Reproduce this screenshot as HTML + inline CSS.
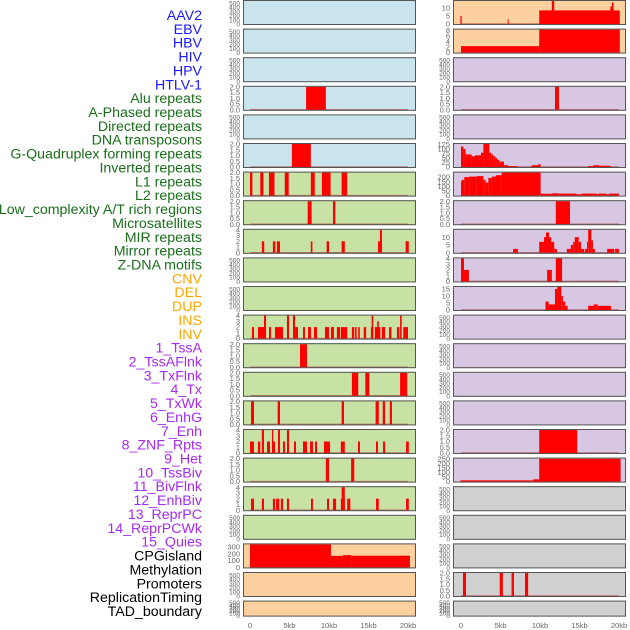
<!DOCTYPE html>
<html><head><meta charset="utf-8"><style>
html,body{margin:0;padding:0;background:#fff;width:630px;height:630px;overflow:hidden}
svg{display:block}
</style></head><body>
<svg id="chart" width="630" height="630" xmlns="http://www.w3.org/2000/svg" font-family="Liberation Sans, sans-serif"></svg>
<script>
const trackLabels=["AAV2","EBV","HBV","HIV","HPV","HTLV-1","Alu repeats","A-Phased repeats","Directed repeats","DNA transposons","G-Quadruplex forming repeats","Inverted repeats","L1 repeats","L2 repeats","Low_complexity A/T rich regions","Microsatellites","MIR repeats","Mirror repeats","Z-DNA motifs","CNV","DEL","DUP","INS","INV","1_TssA","2_TssAFlnk","3_TxFlnk","4_Tx","5_TxWk","6_EnhG","7_Enh","8_ZNF_Rpts","9_Het","10_TssBiv","11_BivFlnk","12_EnhBiv","13_ReprPC","14_ReprPCWk","15_Quies","CPGisland","Methylation","Promoters","ReplicationTiming","TAD_boundary"];
const labelGroups=[6,13,5,15,5];
const groupColors=["#1a1aff","#1a6e1a","#ffa500","#a52af0","#000000"];
const xTickValues=[0,5,10,15,20];
const xTickLabels=["0","5kb","10kb","15kb","20kb"];
const leftYMax=[null,null,null,2,null,2,2,2,4,null,null,4,2,2,2,4,2,4,null,340,null,null];
const rightYMax=[14.4,8.2,null,2,null,128,248,2,14.7,4,16.4,null,null,null,null,2,252,null,null,null,2,null];
const leftTicks=[null,null,null,[0,0.5,1,1.5,2],null,[0,0.5,1,1.5,2],[0,0.5,1,1.5,2],[0,0.5,1,1.5,2],[0,1,2,3,4],null,null,[0,1,2,3,4],[0,0.5,1,1.5,2],[0,0.5,1,1.5,2],[0,0.5,1,1.5,2],[0,1,2,3,4],[0,0.5,1,1.5,2],[0,1,2,3,4],null,[0,100,200,300],null,null];
const rightTicks=[[0,5,10],[0,2,4,6,8],null,[0,0.5,1,1.5,2],null,[0,25,50,75,100,125],[0,50,100,150,200],[0,0.5,1,1.5,2],[0,5,10],[0,1,2,3,4],[0,5,10,15],null,null,null,null,[0,0.5,1,1.5,2],[0,50,100,150,200,250],null,null,null,[0,0.5,1,1.5,2],null];
const leftBars=[[],[],[],
[[7.1,9.6,2]],
[],
[[5.3,7.7,2]],
[[0,0.3,2],[1.3,1.7,2],[2.4,3.1,2],[4.4,4.9,2],[7.7,8.2,2],[9.1,10.2,2],[11.6,12.3,2]],
[[7.3,7.8,2],[10.5,10.8,2]],
[[1.5,1.8,2],[2.9,3.2,2],[3.4,3.8,2],[7.7,7.9,2],[9.7,10,2],[11.6,12,2],[16.2,16.7,2],[16.45,16.7,4],[19.7,20.1,2]],
[],[],
[[0.25,0.51,2],[1.01,2.03,2],[1.77,2.03,4],[2.41,2.66,2],[3.16,4.18,2],[4.68,4.94,4],[5.44,5.7,4],[5.7,6.08,2],[6.71,6.96,2],[7.34,7.72,2],[8.1,8.48,2],[9.49,10,2],[10.25,10.63,2],[11,11.4,2],[11.5,12.3,2],[12.9,13.2,2],[13.3,13.5,2],[13.7,13.9,2],[14.4,14.7,2],[15.3,15.6,2],[15.4,15.6,4],[15.8,16.5,2],[16.1,16.3,3],[16.7,17.1,2],[17.6,17.9,2],[18.6,18.9,2],[19,19.2,4],[19.4,20,2]],
[[6.33,7.21,2]],
[[12.9,13.7,2],[14.6,15.1,2],[19,19.9,2]],
[[0.13,0.51,2],[3.5,3.8,2],[11.6,11.9,2],[15.9,16.3,2],[16.8,17.1,2],[17.7,17.97,2]],
[[0,0.5,2],[1,1.3,2],[1.5,1.77,4],[2.15,2.53,2],[2.78,3.16,2],[2.78,2.95,4],[3.54,3.8,4],[4.18,4.43,2],[4.68,4.94,4],[5.57,5.82,2],[6.71,7.21,2],[7.6,7.97,2],[8.23,8.48,2],[9.36,10.13,2],[11.5,12,2],[13.67,13.92,2],[15.95,16.2,2],[16.84,17.1,2],[19.75,20.1,2]],
[[9.6,10,2],[12.8,13.2,2]],
[[0.13,0.51,2],[1.5,1.77,2],[2.9,3.16,2],[3.3,3.7,2],[3.9,4.18,2],[4.68,4.94,2],[7.72,7.97,2],[9.75,10,2],[10.5,10.9,2],[11.5,12,2],[11.6,12,4],[12.3,12.7,2],[15.95,16.3,2],[19.75,20.1,2]],
[],
[[0,10.25,340],[10.25,11.77,171],[11.77,12.8,182],[12.8,20.25,173]],
[],[]];
const rightBars=[
[[-0.08,0.08,5],[5.9,6.0,3],[9.9,20.1,8.5],[11.5,11.8,14.4],[18.9,19.1,11],[19.1,19.3,13.5]],
[[0,9.9,2.3],[9.9,20.1,8.2]],
[],
[[11.9,12.4,2]],
[],
[[0,0.3,114],[0.3,0.59,100],[0.59,1.35,70],[1.35,1.77,60],[1.77,2.53,65],[2.53,2.83,80],[2.83,3.59,128],[3.59,3.84,80],[3.84,4.09,70],[4.09,4.35,60],[4.35,4.6,50],[4.6,4.85,40],[4.85,5.44,30],[5.44,5.99,10],[5.99,7.17,5],[8.94,9.78,10],[9.78,10.08,15],[16.1,16.75,5],[16.75,17.5,10],[17.5,18.94,7]],
[[0,0.08,150],[0.08,0.42,170],[0.42,1.05,200],[1.05,1.98,205],[1.98,2.83,210],[2.83,3.12,170],[3.12,3.46,140],[3.46,3.88,190],[3.88,4.43,205],[4.43,5.15,220],[5.15,10.08,248],[10.08,11.5,20],[11.5,12.3,25],[12.3,14.6,22],[14.6,15.3,15],[15.3,17.2,22],[17.2,17.4,15],[17.4,18.4,22],[18.4,18.75,15],[18.75,20,22]],
[[12.0,13.8,2]],
[[6.6,7.2,2.5],[9.9,10.5,7],[10.5,10.76,10],[10.76,11.14,13],[11.14,11.4,10],[11.4,11.8,7],[11.8,12.15,2.5],[13.4,13.9,2.5],[13.9,14.2,5],[14.2,14.4,7],[14.4,14.9,10],[14.9,15.2,7],[15.2,15.6,2.5],[15.7,15.95,2.5],[15.95,16.1,7],[16.1,16.5,14.7],[16.5,16.7,8],[16.7,16.96,2.5],[18.5,19.4,2.5],[19.5,20,2.5]],
[[0,0.38,4],[0.38,1.0,2],[10.9,11.5,2],[12.0,12.8,4]],
[[10.7,11.1,6],[11.1,11.9,4],[11.9,12.2,15],[12.2,12.7,16.4],[12.7,12.9,10],[12.9,13.2,6],[13.2,13.5,3],[16.1,16.8,3],[16.8,17.3,4],[17.3,18.99,3]],
[],[],[],[],
[[9.9,14.7,2]],
[[-0.1,9.15,14],[9.15,9.9,25],[9.9,20.2,250]],
[],[],[],
[[0.25,0.63,2],[4.9,5.3,2],[6.4,6.7,2],[8.1,8.5,2]],
[]];
const leftBg=["#c9e4ec","#c9e4ec","#c9e4ec","#c9e4ec","#c9e4ec","#c9e4ec","#c8e1a5","#c8e1a5","#c8e1a5","#c8e1a5","#c8e1a5","#c8e1a5","#c8e1a5","#c8e1a5","#c8e1a5","#c8e1a5","#c8e1a5","#c8e1a5","#c8e1a5","#fdd09f","#fdd09f","#fdd09f"];
const rightBg=["#fdd09f","#fdd09f","#d7c7e3","#d7c7e3","#d7c7e3","#d7c7e3","#d7c7e3","#d7c7e3","#d7c7e3","#d7c7e3","#d7c7e3","#d7c7e3","#d7c7e3","#d7c7e3","#d7c7e3","#d7c7e3","#d7c7e3","#d0d0d0","#d0d0d0","#d0d0d0","#d0d0d0","#d0d0d0"];

const NS="http://www.w3.org/2000/svg";
const svg=document.getElementById('chart');
function mk(tag,attrs,parent){const e=document.createElementNS(NS,tag);for(const k in attrs)e.setAttribute(k,attrs[k]);(parent||svg).appendChild(e);return e;}

let li=0;
labelGroups.forEach((n,g)=>{for(let j=0;j<n;j++){
  const t=mk('text',{x:202,y:15+li*13.86+5,'text-anchor':'end','font-size':14.2,fill:groupColors[g]});
  
  
  t.textContent=trackLabels[li];li++;}});

function drawColumn(x0,ymaxs,ticks,bars,bgs,zeroPx,colName){
  const W=173;
  const xs=kb=>zeroPx+kb*7.9;
  for(let i=0;i<22;i++){
    const top=i*28.6, h=(i===21)?16:25;
    const g=mk('g',{});
    
    
    mk('rect',{x:x0,y:top,width:W,height:h,fill:bgs[i]},g);
    const empty=ymaxs[i]===null;
    const ymax=empty?540:ymaxs[i];
    const tv=empty?[0,100,200,300,400,500]:ticks[i];
    const ys=v=>top+h-1-(v/ymax)*(h-2);
    tv.forEach(v=>{
      const t=mk('text',{x:x0-3,y:ys(v)+2.6,'text-anchor':'end','font-size':empty||i===21?6.5:7.5,fill:'#666'},g);
      
      
      t.textContent=(ymax<=2.5&&!empty)?v.toFixed(1):String(v);
    });
    if(!empty){
      const bl=mk('line',{x1:xs(0),x2:xs(20),y1:ys(0),y2:ys(0),stroke:'#b03030','stroke-width':1.5,opacity:0.6},g);
      
      
    }
    bars[i].forEach(b=>{
      const y=Math.max(top,ys(b[2]));
      const r=mk('rect',{x:xs(b[0]),y:y,width:Math.max(1,xs(b[1])-xs(b[0])),height:ys(0)-y,fill:'#ff0000'},g);
      
      
    });
    mk('rect',{x:x0+0.5,y:top+0.5,width:W-1,height:h-1,fill:'none',stroke:'#555','stroke-width':1},g);
  }
  xTickValues.forEach((v,k)=>{
    const t=mk('text',{x:xs(v),y:628,'text-anchor':'middle','font-size':7.5,fill:'#666'});
    
    
    t.textContent=xTickLabels[k];
  });
}
drawColumn(243,leftYMax,leftTicks,leftBars,leftBg,250,'left');
drawColumn(453,rightYMax,rightTicks,rightBars,rightBg,461,'right');
</script>
</body></html>
